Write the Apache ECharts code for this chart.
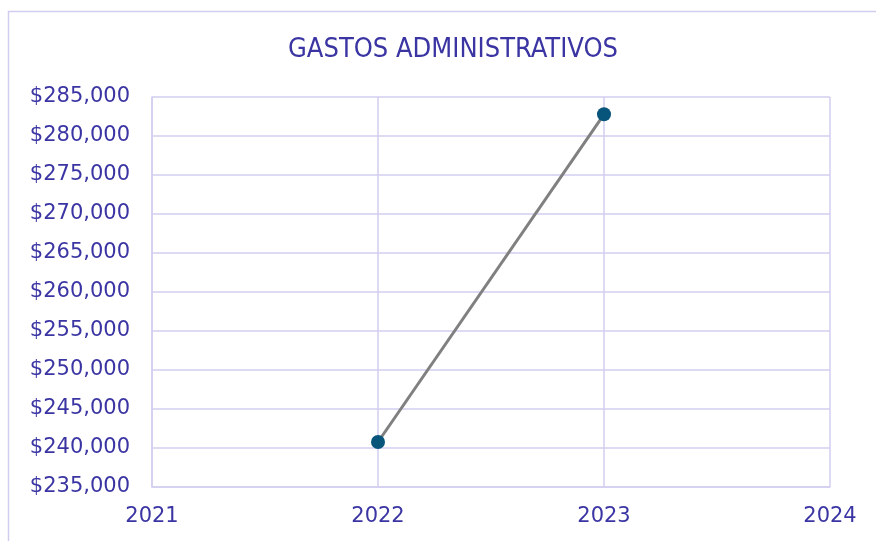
<!DOCTYPE html>
<html>
<head>
<meta charset="utf-8">
<script src="https://cdn.jsdelivr.net/npm/echarts@6/dist/echarts.min.js"></script>
<style>html,body{margin:0;padding:0;background:#fff}#c{width:876px;height:541px}</style>
</head>
<body>
<div id="c"></div>
<script>
const years = [2022, 2023];
const gastos = [240770, 282780];
const yMin = 235000, yMax = 285000, yStep = 5000;
const xMin = 2021, xMax = 2024;
const titleText = 'GASTOS ADMINISTRATIVOS';

const txt = '#3b35a3';
const grid = '#d2cff0';
const chart = echarts.init(document.getElementById('c'));
chart.setOption({
  animation: false,
  backgroundColor: '#fff',
  graphic: [{type:'rect', shape:{x:8.5,y:11.5,width:900,height:600}, style:{fill:'none', stroke:'#d0cdef', lineWidth:1.5}, silent:true}],
  title: {text: titleText, left: 448, textAlign: 'center', top: 31,
    textStyle: {color: txt, fontSize: 27, fontWeight: 'normal', fontFamily: '"DejaVu Sans Condensed", "DejaVu Sans"'}},
  grid: {left: 152, right: 46, top: 97, bottom: 54},
  xAxis: {type: 'value', min: xMin, max: xMax, interval: 1,
    axisLine: {show: true, lineStyle: {color: grid, width: 1.5}},
    axisTick: {show: false},
    splitLine: {show: true, lineStyle: {color: grid, width: 1.5}},
    axisLabel: {color: txt, fontSize: 21, fontFamily: 'DejaVu Sans', margin: 19, formatter: v => String(v)}},
  yAxis: {type: 'value', min: yMin, max: yMax, interval: yStep,
    axisLine: {show: true, lineStyle: {color: grid, width: 1.5}},
    axisTick: {show: false},
    splitLine: {show: true, lineStyle: {color: grid, width: 1.5}},
    axisLabel: {color: txt, fontSize: 21, fontFamily: 'DejaVu Sans', margin: 22, padding: [3, 0, 0, 0],
      formatter: v => '$' + v.toLocaleString('en-US')}},
  series: [{type: 'line', data: years.map((y, i) => [y, gastos[i]]),
    symbol: 'circle', symbolSize: 14,
    lineStyle: {color: '#808080', width: 3},
    itemStyle: {color: '#08557b'}}]
});
</script>
</body>
</html>
